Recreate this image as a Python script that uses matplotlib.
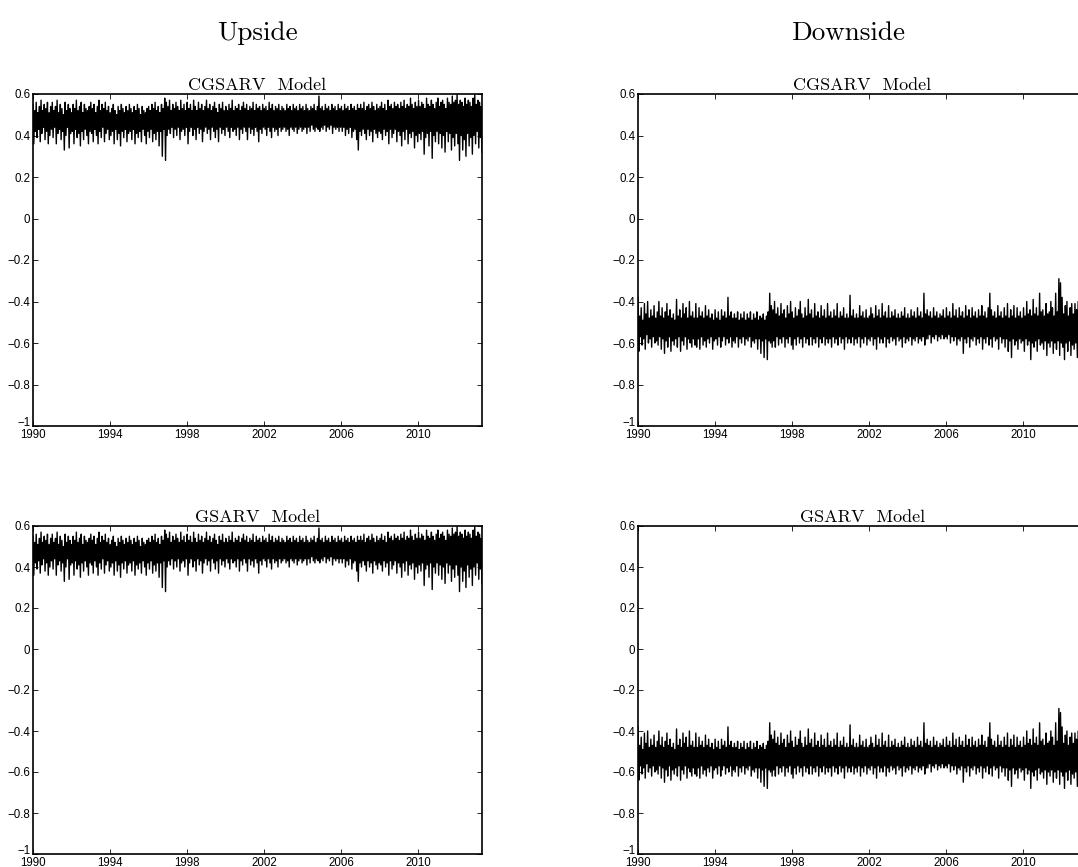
import numpy as np
import matplotlib
matplotlib.use('Agg')
import matplotlib.pyplot as plt
import matplotlib.transforms as mtransforms
from matplotlib.ticker import FixedLocator, FixedFormatter

# sample span of the series (fractional years)
t_start, t_end = 1990.0, 2013.33

upside = [
    .55, .36, .52, .42, .56, .39, .51, .43, .54, .37, .57, .41, .52, .44, .55, .38, .53, .42, .56, .36, .51, .40, .54, .43,  # 1990
    .56, .39, .52, .44, .54, .36, .57, .41, .51, .43, .55, .38, .53, .42, .50, .33, .56, .40, .52, .44, .55, .34, .53, .41,  # 1991
    .51, .42, .55, .36, .53, .43, .57, .39, .52, .41, .54, .35, .56, .42, .51, .38, .55, .43, .53, .40, .52, .36, .54, .42,  # 1992
    .56, .41, .53, .37, .55, .43, .51, .40, .54, .36, .57, .42, .52, .39, .55, .44, .53, .37, .56, .41, .52, .43, .54, .38,  # 1993
    .51, .40, .53, .42, .55, .36, .52, .43, .50, .38, .54, .41, .52, .35, .55, .42, .53, .39, .51, .43, .54, .37, .52, .41,  # 1994
    .55, .42, .53, .38, .51, .43, .54, .36, .52, .41, .55, .39, .53, .42, .50, .37, .54, .43, .52, .40, .51, .36, .53, .42,  # 1995
    .54, .39, .52, .43, .55, .37, .53, .41, .56, .38, .52, .42, .54, .35, .51, .42, .55, .30, .53, .43, .58, .28, .56, .40,  # 1996
    .54, .43, .57, .41, .52, .44, .55, .39, .53, .43, .56, .40, .54, .44, .52, .38, .57, .42, .53, .43, .55, .40, .52, .44,  # 1997
    .56, .36, .53, .42, .55, .44, .52, .40, .57, .43, .54, .38, .52, .44, .56, .41, .53, .43, .55, .37, .52, .42, .54, .44,  # 1998
    .57, .41, .53, .43, .55, .38, .52, .44, .54, .42, .56, .39, .53, .43, .51, .37, .55, .44, .53, .41, .56, .43, .52, .40,  # 1999
    .54, .44, .52, .42, .55, .39, .53, .44, .57, .42, .52, .43, .54, .40, .53, .44, .55, .38, .52, .43, .54, .41, .56, .44,  # 2000
    .53, .42, .55, .38, .52, .44, .54, .41, .53, .43, .56, .40, .52, .44, .55, .42, .53, .37, .54, .43, .52, .41, .55, .44,  # 2001
    .53, .43, .54, .40, .52, .44, .56, .42, .53, .39, .55, .44, .52, .42, .54, .43, .53, .40, .55, .44, .52, .42, .54, .43,  # 2002
    .53, .44, .52, .42, .55, .43, .53, .40, .54, .44, .52, .43, .55, .42, .53, .44, .54, .41, .52, .43, .55, .44, .53, .42,  # 2003
    .54, .43, .52, .44, .55, .41, .53, .44, .52, .42, .54, .45, .53, .43, .55, .42, .52, .44, .54, .43, .59, .42, .53, .44,  # 2004
    .54, .43, .52, .45, .55, .42, .53, .44, .54, .43, .52, .45, .55, .41, .53, .44, .54, .43, .52, .44, .55, .42, .53, .44,  # 2005
    .54, .42, .52, .44, .55, .40, .53, .43, .54, .41, .52, .44, .55, .39, .53, .42, .54, .43, .52, .38, .55, .33, .53, .42,  # 2006
    .55, .40, .53, .43, .56, .41, .52, .38, .54, .43, .55, .40, .53, .42, .56, .37, .54, .43, .52, .41, .55, .39, .53, .42,  # 2007
    .54, .41, .56, .38, .53, .43, .55, .40, .52, .42, .57, .36, .54, .43, .55, .39, .53, .41, .56, .43, .54, .37, .55, .42,  # 2008
    .53, .40, .56, .35, .54, .42, .57, .38, .53, .43, .55, .36, .54, .41, .58, .39, .55, .42, .53, .34, .56, .40, .54, .37,  # 2009
    .57, .41, .54, .38, .56, .42, .55, .31, .53, .39, .58, .41, .55, .35, .54, .42, .57, .29, .55, .40, .53, .37, .56, .42,  # 2010
    .58, .36, .54, .41, .56, .34, .57, .40, .55, .32, .53, .42, .58, .37, .56, .41, .55, .33, .59, .39, .56, .35, .57, .41,  # 2011
    .60, .36, .55, .28, .57, .40, .56, .33, .54, .38, .58, .30, .55, .41, .57, .35, .56, .39, .54, .31, .58, .40, .60, .36,  # 2012
    .55, .42, .57, .34, .56, .39, .54, .32,                                                                                  # 2013
]

# Downside series, same layout
downside = [
    -.38, -.64, -.47, -.57, -.43, -.61, -.49, -.58, -.41, -.63, -.46, -.56, -.40, -.60, -.48, -.58, -.44, -.62, -.47, -.57, -.42, -.60, -.48, -.59,  # 1990
    -.45, -.61, -.40, -.57, -.47, -.63, -.43, -.58, -.48, -.65, -.45, -.59, -.41, -.62, -.47, -.57, -.44, -.64, -.48, -.59, -.46, -.61, -.49, -.58,  # 1991
    -.39, -.62, -.47, -.57, -.44, -.64, -.48, -.59, -.41, -.61, -.46, -.57, -.43, -.63, -.48, -.58, -.40, -.60, -.47, -.62, -.45, -.58, -.48, -.61,  # 1992
    -.41, -.62, -.48, -.58, -.43, -.63, -.47, -.57, -.45, -.61, -.48, -.59, -.42, -.62, -.47, -.58, -.44, -.60, -.48, -.57, -.46, -.63, -.49, -.59,  # 1993
    -.44, -.58, -.48, -.61, -.45, -.57, -.49, -.62, -.44, -.59, -.47, -.57, -.45, -.61, -.48, -.58, -.38, -.60, -.47, -.57, -.45, -.62, -.48, -.59,  # 1994
    -.46, -.60, -.48, -.57, -.45, -.62, -.49, -.58, -.46, -.60, -.48, -.57, -.45, -.61, -.49, -.58, -.46, -.59, -.48, -.57, -.45, -.62, -.49, -.59,  # 1995
    -.46, -.60, -.48, -.58, -.45, -.63, -.49, -.58, -.47, -.65, -.48, -.59, -.46, -.67, -.49, -.58, -.47, -.68, -.45, -.59, -.36, -.60, -.42, -.62,  # 1996
    -.44, -.59, -.40, -.62, -.46, -.57, -.43, -.61, -.47, -.58, -.41, -.60, -.46, -.57, -.44, -.62, -.48, -.58, -.42, -.60, -.46, -.57, -.40, -.61,  # 1997
    -.45, -.63, -.48, -.58, -.43, -.61, -.47, -.57, -.44, -.60, -.40, -.58, -.46, -.62, -.48, -.57, -.43, -.60, -.47, -.58, -.39, -.61, -.46, -.57,  # 1998
    -.44, -.61, -.48, -.58, -.41, -.60, -.47, -.57, -.45, -.62, -.48, -.58, -.42, -.60, -.47, -.57, -.44, -.61, -.48, -.58, -.41, -.60, -.47, -.58,  # 1999
    -.45, -.62, -.48, -.57, -.44, -.60, -.47, -.58, -.41, -.61, -.48, -.57, -.45, -.60, -.47, -.58, -.43, -.63, -.48, -.57, -.46, -.60, -.48, -.58,  # 2000
    -.37, -.60, -.47, -.57, -.44, -.61, -.48, -.58, -.46, -.60, -.48, -.57, -.42, -.62, -.47, -.58, -.45, -.60, -.48, -.57, -.44, -.61, -.48, -.58,  # 2001
    -.47, -.59, -.43, -.57, -.46, -.61, -.48, -.58, -.42, -.63, -.47, -.57, -.44, -.60, -.48, -.58, -.41, -.60, -.47, -.57, -.45, -.62, -.48, -.58,  # 2002
    -.42, -.60, -.48, -.57, -.45, -.59, -.47, -.58, -.44, -.61, -.48, -.57, -.46, -.59, -.48, -.58, -.45, -.62, -.47, -.57, -.43, -.60, -.48, -.58,  # 2003
    -.46, -.59, -.48, -.57, -.44, -.61, -.47, -.58, -.45, -.59, -.48, -.57, -.43, -.60, -.47, -.58, -.45, -.59, -.48, -.57, -.36, -.61, -.46, -.58,  # 2004
    -.44, -.58, -.47, -.56, -.45, -.60, -.48, -.57, -.43, -.58, -.47, -.56, -.45, -.59, -.48, -.57, -.46, -.58, -.47, -.56, -.44, -.58, -.48, -.57,  # 2005
    -.43, -.58, -.47, -.56, -.45, -.60, -.48, -.57, -.41, -.59, -.47, -.57, -.44, -.61, -.48, -.58, -.43, -.59, -.47, -.57, -.45, -.65, -.48, -.58,  # 2006
    -.42, -.60, -.47, -.57, -.44, -.62, -.48, -.58, -.43, -.59, -.47, -.57, -.45, -.61, -.48, -.58, -.44, -.60, -.47, -.57, -.42, -.63, -.47, -.58,  # 2007
    -.45, -.60, -.48, -.57, -.43, -.61, -.36, -.58, -.44, -.62, -.47, -.57, -.45, -.59, -.48, -.58, -.42, -.63, -.47, -.57, -.45, -.60, -.48, -.58,  # 2008
    -.43, -.62, -.47, -.58, -.41, -.64, -.48, -.59, -.44, -.67, -.47, -.58, -.42, -.61, -.48, -.59, -.43, -.63, -.47, -.58, -.45, -.60, -.48, -.59,  # 2009
    -.43, -.64, -.47, -.58, -.40, -.61, -.46, -.59, -.44, -.68, -.47, -.60, -.39, -.62, -.46, -.59, -.43, -.64, -.47, -.58, -.36, -.61, -.45, -.60,  # 2010
    -.44, -.63, -.47, -.59, -.41, -.66, -.46, -.60, -.45, -.62, -.40, -.59, -.43, -.65, -.47, -.60, -.36, -.63, -.45, -.59, -.29, -.66, -.31, -.60,  # 2011
    -.38, -.62, -.46, -.68, -.42, -.60, -.40, -.64, -.47, -.59, -.43, -.66, -.41, -.61, -.46, -.63, -.41, -.60, -.44, -.67, -.40, -.61, -.45, -.64,  # 2012
    -.40, -.62, -.46, -.66, -.42, -.60, -.44, -.63,                                                                                                  # 2013
]

# the two models are indistinguishable at this resolution
series = {
    ('CGSARV', 'up'): upside,
    ('CGSARV', 'down'): downside,
    ('GSARV', 'up'): upside,
    ('GSARV', 'down'): downside,
}

x_ticks = [1990, 1994, 1998, 2002, 2006, 2010]
y_ticks = [-1, -0.8, -0.6, -0.4, -0.2, 0, 0.2, 0.4, 0.6]
y_labels = ['\u22121', '\u22120.8', '\u22120.6', '\u22120.4', '\u22120.2', '0', '0.2', '0.4', '0.6']

W, H = 1078, 867
fig = plt.figure(figsize=(W / 100, H / 100), dpi=100)

tick_font = ['Liberation Sans', 'DejaVu Sans']
serif = ['cmr10', 'DejaVu Serif']

# axes boxes in pixels: (left, top, width, height)
boxes = {
    ('CGSARV', 'up'): (33, 94, 449, 332),
    ('CGSARV', 'down'): (638, 94, 449, 332),
    ('GSARV', 'up'): (33, 526, 449, 328),
    ('GSARV', 'down'): (638, 526, 449, 328),
}

for (model, side), (l, t, w, h) in boxes.items():
    ax = fig.add_axes([l / W, 1 - (t + h) / H, w / W, h / H])
    y = np.array(series[(model, side)])
    x = np.linspace(t_start, t_end, len(y))
    ax.plot(x, y, color='black', linewidth=1.0)
    ax.set_xlim(t_start, t_end)
    ax.set_ylim(-1, 0.6)
    ax.xaxis.set_major_locator(FixedLocator(x_ticks))
    ax.yaxis.set_major_locator(FixedLocator(y_ticks))
    ax.yaxis.set_major_formatter(FixedFormatter(y_labels))
    ax.tick_params(direction='in', length=3.5, width=0.6, top=True, right=True,
                   labelsize=8.3, pad=2)
    for lab in ax.get_xticklabels() + ax.get_yticklabels():
        lab.set_family(tick_font)
    # MATLAB lifts the bottom y label clear of the x labels
    low = ax.get_yticklabels()[0]
    low.set_transform(low.get_transform() + mtransforms.ScaledTranslation(0, 4 / 100, fig.dpi_scale_trans))
    for sp in ax.spines.values():
        sp.set_linewidth(1.2)
    ax.set_title(model + '  Model', fontsize=13, family=serif, pad=3)

fig.text(257 / W, 1 - 33 / H, 'Upside', ha='center', va='center', fontsize=19.5, family=serif)
fig.text(848 / W, 1 - 33 / H, 'Downside', ha='center', va='center', fontsize=19.5, family=serif)

fig.savefig('out.png', dpi=100)
